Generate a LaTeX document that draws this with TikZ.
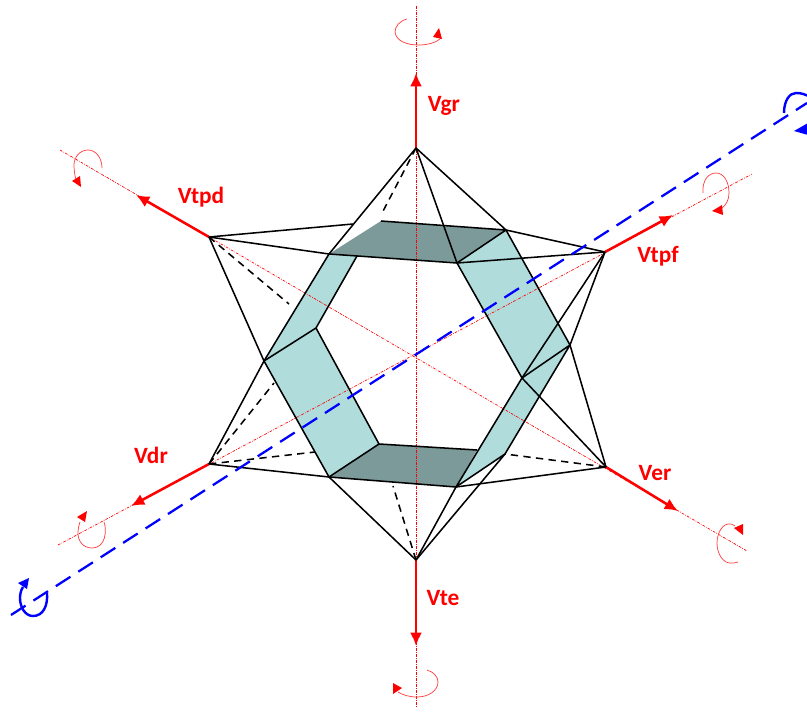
\documentclass[tikz,border=0pt]{standalone}
\usepackage{fontspec}
\setmainfont{Carlito}
\usepackage{xcolor}
\definecolor{bandlight}{RGB}{176,220,220}
\definecolor{banddark}{RGB}{124,154,154}
\usetikzlibrary{arrows.meta}

\begin{document}
\begin{tikzpicture}[
  x=0.75pt,y=-0.75pt,
  solidline/.style={black,line width=1.15pt,line join=round},
  hiddenline/.style={black,line width=1.15pt,dash pattern=on 5.5pt off 4pt},
  axisline/.style={red,line width=0.5pt,dash pattern=on 2pt off 1pt on 0.5pt off 1pt},
  vec/.style={-{Latex[length=10pt,width=9pt]},red,line width=1.9pt},
  spin/.style={red!75,line width=0.55pt},
  spinblue/.style={blue,line width=1.8pt},
  vlabel/.style={font=\fontsize{17.5}{20}\selectfont\bfseries,text=red,inner sep=0pt}
]
  \useasboundingbox (0,0) rectangle (807,713);

  \coordinate (gr) at (416,148);
  \coordinate (te) at (416,560);
  \coordinate (tpd) at (209,237);
  \coordinate (tpf) at (605,252);
  \coordinate (dr) at (209,464);
  \coordinate (er) at (606,467);

  \coordinate (t1) at (329,254);
  \coordinate (t2) at (381,221);
  \coordinate (t3) at (506,230);
  \coordinate (t4) at (457,263);
  \coordinate (b1) at (329,477);
  \coordinate (b2) at (379,444);
  \coordinate (b3) at (477,450);
  \coordinate (b4) at (456,487);
  \coordinate (b5) at (505,454);
  \coordinate (l1) at (264,361);
  \coordinate (l2) at (316,328);
  \coordinate (l3) at (357,256);
  \coordinate (r1) at (522,378);
  \coordinate (r2) at (570,345);

  \fill[bandlight] (t1)--(l1)--(l2)--(l3)--cycle;
  \fill[bandlight] (l1)--(l2)--(b2)--(b1)--cycle;
  \fill[bandlight] (t4)--(t3)--(r2)--(r1)--cycle;
  \fill[bandlight] (r1)--(r2)--(b5)--(b4)--cycle;
  \fill[banddark] (t1)--(t2)--(t3)--(t4)--cycle;
  \fill[banddark] (b1)--(b2)--(b3)--(b4)--cycle;

  \draw[axisline] (416,6)--(416,708);
  \draw[axisline] (60,150)--(747,551);
  \draw[axisline] (58,545)--(752,174);

  \draw[vec] (gr)--(416,73);
  \draw[vec] (te)--(416,646);
  \draw[vec] (tpd)--(136,195);
  \draw[vec] (tpf)--(673,215);
  \draw[vec] (dr)--(131,506);
  \draw[vec] (er)--(678,511);

  \draw[solidline] (t1)--(t4)--(t3)--(t2);
  \draw[solidline] (t1)--(l1)--(b1)--(b2)--(b3);
  \draw[solidline] (l1)--(l2)--(l3);
  \draw[solidline] (l2)--(b2);
  \draw[solidline] (b1)--(b4)--(b5)--(r2)--(r1)--(b4);
  \draw[solidline] (t4)--(r1);
  \draw[solidline] (t3)--(r2);

  \draw[solidline] (gr)--(t1);
  \draw[solidline] (gr)--(t3);
  \draw[solidline] (gr)--(t4);
  \draw[solidline] (tpd)--(t1);
  \draw[solidline] (tpd)--(353,224);
  \draw[solidline] (tpd)--(l1);
  \draw[solidline] (tpf)--(t3);
  \draw[solidline] (tpf)--(t4);
  \draw[solidline] (tpf)--(r1);
  \draw[solidline] (tpf)--(r2);
  \draw[solidline] (dr)--(b1);
  \draw[solidline] (dr)--(l1);
  \draw[solidline] (er)--(b4);
  \draw[solidline] (er)--(r1);
  \draw[solidline] (er)--(r2);
  \draw[solidline] (te)--(b1);
  \draw[solidline] (te)--(b4);
  \draw[solidline] (te)--(b5);

  \draw[hiddenline] (gr)--(381,215);
  \draw[hiddenline] (tpd)--(289,304);
  \draw[hiddenline] (dr)--(274,383);
  \draw[hiddenline] (dr)--(315,452);
  \draw[hiddenline] (er)--(b5);
  \draw[hiddenline] (te)--(393,486);

  \draw[blue,line width=1.7pt,dash pattern=on 13pt off 7pt] (11,615)--(807,103);

  \draw[spin] (407,19) .. controls (399,21) and (395,27) .. (395,32) .. controls (396,41) and (407,45) .. (418,45) .. controls (427,45) and (436,43) .. (441,38);
  \fill[red] (433,37)--(442,39)--(439,28)--cycle;
  \draw[spin] (102,168) .. controls (102,158) and (96,150) .. (88,150) .. controls (80,150) and (74,157) .. (74,165) .. controls (74,171) and (75,176) .. (76,180);
  \fill[red] (72,181)--(80,176)--(81,187)--cycle;
  \draw[spin] (703,193) .. controls (702,181) and (708,173) .. (716,173) .. controls (724,173) and (729,182) .. (729,193) .. controls (729,200) and (726,205) .. (722,208);
  \fill[red] (712,211)--(722,205)--(723,215)--cycle;
  \draw[spin] (104,522) .. controls (107,530) and (106,548) .. (92,548) .. controls (83,548) and (78,541) .. (78,533) .. controls (78,529) and (79,525) .. (80,522);
  \fill[red] (77,517)--(87,511)--(85,522)--cycle;
  \draw[spin] (735,526) .. controls (726,519) and (717,530) .. (717,543) .. controls (717,555) and (724,563) .. (730,563) .. controls (733,563) and (736,563) .. (738,562);
  \fill[red] (734,528)--(743,524)--(743,535)--cycle;
  \draw[spin] (427,670) .. controls (434,672) and (438,677) .. (438,682) .. controls (438,691) and (428,697) .. (417,697) .. controls (409,697) and (403,695) .. (398,692);
  \fill[red] (393,683)--(402,688)--(393,694)--cycle;

  \draw[spinblue] (47,593) .. controls (48,606) and (43,616) .. (33,616) .. controls (25,616) and (20,607) .. (20,598) .. controls (20,594) and (21,590) .. (23,587);
  \fill[blue] (18,583)--(29,578)--(27,589)--cycle;
  \draw[spinblue] (784,113) .. controls (784,100) and (790,93) .. (796,93) .. controls (801,93) and (805,94) .. (812,98);
  \fill[blue] (794,131)--(808,123)--(808,135)--cycle;

  \node[vlabel] (lblgr) at (444,106) {Vgr};
  \node[vlabel] (lbltpd) at (201,197) {Vtpd};
  \node[vlabel] (lbltpf) at (658,256) {Vtpf};
  \node[vlabel] (lbldr) at (151,455) {Vdr};
  \node[vlabel] (lbler) at (655,473) {Ver};
  \node[vlabel] (lblte) at (443,598) {Vte};
\end{tikzpicture}
\end{document}
